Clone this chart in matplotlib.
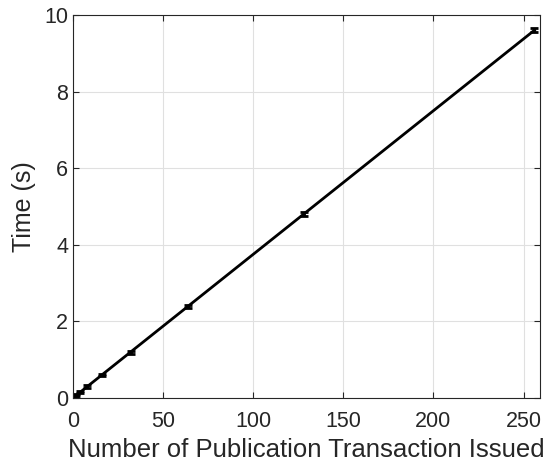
import matplotlib
matplotlib.use("Agg")
import matplotlib.pyplot as plt

# publications issued vs. time
n_pub = [1, 2, 4, 8, 16, 32, 64, 128, 256]
time_s = [0.0375, 0.075, 0.15, 0.3, 0.6, 1.2, 2.4, 4.8, 9.6]
time_err = [0.03, 0.03, 0.03, 0.03, 0.03, 0.04, 0.04, 0.05, 0.05]

plt.rcParams["font.family"] = ["Liberation Sans", "DejaVu Sans"]

fig = plt.figure(figsize=(5.52, 4.65), dpi=100)
ax = fig.add_axes([0.132, 0.144, 0.846, 0.824])

ax.errorbar(n_pub, time_s, yerr=time_err, color="black", linewidth=2,
            elinewidth=2, capsize=3, capthick=2)

ax.set_xlim(0, 259)
ax.set_ylim(0, 10)
ax.set_xticks([0, 50, 100, 150, 200, 250])
ax.set_yticks([0, 2, 4, 6, 8, 10])
ax.grid(True, color="#e0e0e0", linewidth=0.8)
ax.set_axisbelow(True)
ax.tick_params(direction="in", top=True, right=True, labelsize=15.5,
               colors="#262626", length=4)
ax.tick_params(axis="x", pad=9)
for sp in ax.spines.values():
    sp.set_color("#262626")
    sp.set_linewidth(0.8)

ax.set_xlabel("Number of Publication Transaction Issued", fontsize=18.5, color="#262626",
              labelpad=5)
ax.set_ylabel("Time (s)", fontsize=18, color="#262626", labelpad=6)

fig.savefig("out.png", dpi=100)
